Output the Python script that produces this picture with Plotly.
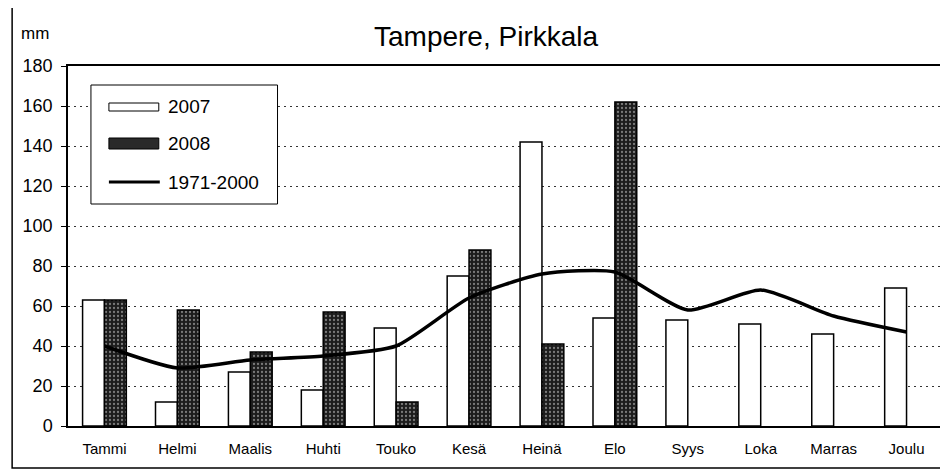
import plotly.graph_objects as go

months = ["Tammi", "Helmi", "Maalis", "Huhti", "Touko", "Kesä",
          "Heinä", "Elo", "Syys", "Loka", "Marras", "Joulu"]
rain_2007 = [63, 12, 27, 18, 49, 75, 142, 54, 53, 51, 46, 69]
rain_2008 = [63, 58, 37, 57, 12, 88, 41, 162, None, None, None, None]
normal_1971_2000 = [40, 29, 33, 35, 40, 64, 76, 77, 58, 68, 55, 47]
y_ticks = [0, 20, 40, 60, 80, 100, 120, 140, 160, 180]

# The page body has an 8px margin, so the figure is drawn at (8, 8).
OFF = 8
FIG_W, FIG_H = 948 - OFF, 471 - OFF
# plot-area geometry in screen pixels
L, R, T, B = 68, 945, 66, 426
W, H = R - L, B - T


def fx(px):
    return (px - L) / W


def fy(py):
    return (B - py) / H


FONT = "Liberation Sans, Arial, sans-serif"

fig = go.Figure()
fig.add_trace(go.Bar(
    x=months, y=rain_2007, name="2007",
    marker=dict(color="white", line=dict(color="black", width=1.5)),
))
fig.add_trace(go.Bar(
    x=months, y=rain_2008, name="2008",
    marker=dict(
        color="#1e1e1e",
        line=dict(color="black", width=1.5),
        pattern=dict(shape=".", fgcolor="#7a7a7a", bgcolor="#1c1c1c",
                     size=4, solidity=0.25, fillmode="replace"),
    ),
))
fig.add_trace(go.Scatter(
    x=months, y=normal_1971_2000, name="1971-2000", mode="lines",
    line=dict(color="black", width=3.5, shape="spline", smoothing=0.6),
))

shapes = [
    # outer chart frame
    dict(type="rect", xref="paper", yref="paper",
         x0=fx(12), x1=fx(970), y0=fy(468), y1=fy(6),
         line=dict(color="black", width=1.5), fillcolor="rgba(0,0,0,0)",
         layer="below"),
    # legend box
    dict(type="rect", xref="paper", yref="paper",
         x0=fx(91), x1=fx(278), y0=fy(204), y1=fy(85),
         line=dict(color="black", width=1), fillcolor="white"),
    dict(type="rect", xref="paper", yref="paper",
         x0=fx(109), x1=fx(159), y0=fy(111), y1=fy(103),
         line=dict(color="black", width=1), fillcolor="white"),
    dict(type="rect", xref="paper", yref="paper",
         x0=fx(109), x1=fx(159), y0=fy(149), y1=fy(138),
         line=dict(color="black", width=1), fillcolor="#2a2a2a"),
    dict(type="line", xref="paper", yref="paper",
         x0=fx(109), x1=fx(160), y0=fy(182), y1=fy(182),
         line=dict(color="black", width=3)),
]

annotations = [
    dict(text="Tampere, Pirkkala", xref="paper", yref="paper",
         x=fx(487), y=fy(36), xanchor="center", yanchor="middle",
         showarrow=False, font=dict(size=28, color="black", family=FONT)),
    dict(text="mm", xref="paper", yref="paper",
         x=fx(19), y=fy(33), xanchor="left", yanchor="middle",
         showarrow=False, font=dict(size=17, color="black", family=FONT)),
]
for label, ypix in [("2007", 106), ("2008", 143), ("1971-2000", 182)]:
    annotations.append(dict(
        text=label, xref="paper", yref="paper",
        x=fx(166), y=fy(ypix), xanchor="left", yanchor="middle",
        showarrow=False, font=dict(size=19, color="black", family=FONT)))

fig.update_layout(
    width=FIG_W, height=FIG_H,
    margin=dict(l=L - OFF, r=948 - R, t=T - OFF, b=471 - B),
    paper_bgcolor="white", plot_bgcolor="white",
    barmode="group", bargap=0.4, bargroupgap=0.0,
    showlegend=False,
    font=dict(family=FONT, color="black"),
    shapes=shapes, annotations=annotations,
)
fig.update_yaxes(
    range=[0, 180], tickvals=y_ticks,
    showgrid=True, gridcolor="#333333", griddash="2px,4px", gridwidth=1,
    showline=True, linecolor="black", linewidth=1.5, mirror=True,
    ticks="outside", ticklen=5, tickcolor="black",
    tickfont=dict(size=18, family=FONT), ticklabelstandoff=5,
    zeroline=False,
)
fig.update_xaxes(
    showgrid=False, showline=True, linecolor="black", linewidth=1.5,
    mirror=True, ticks="", tickfont=dict(size=15, family=FONT),
    ticklabelstandoff=8,
)

fig.write_html("out.html")
